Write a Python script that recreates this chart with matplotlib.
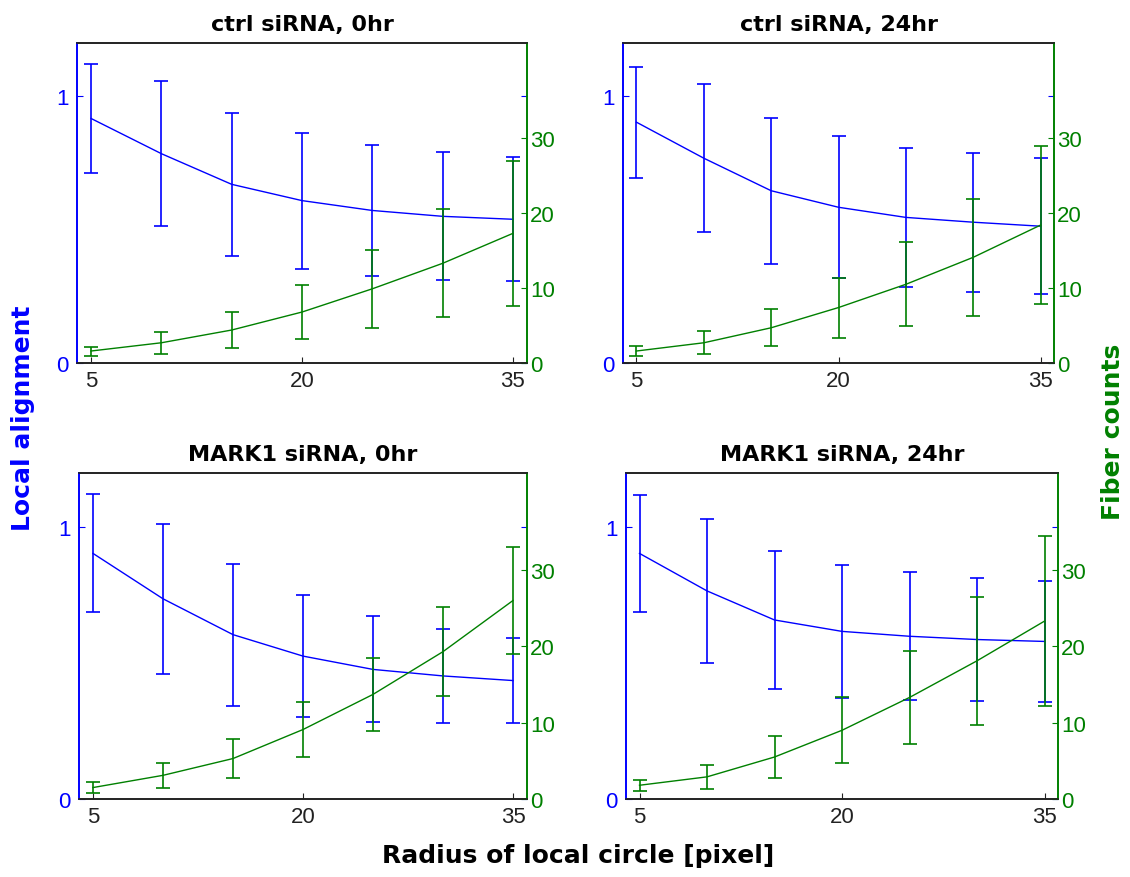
import numpy as np
import matplotlib
matplotlib.use('Agg')
import matplotlib.pyplot as plt

plt.rcParams['font.family'] = ['Liberation Sans', 'DejaVu Sans']

# radius of local circle (pixel)
radius = [5, 10, 15, 20, 25, 30, 35]

titles = ['ctrl siRNA, 0hr', 'ctrl siRNA, 24hr',
          'MARK1 siRNA, 0hr', 'MARK1 siRNA, 24hr']

# local alignment: mean and half-width of error bar
align_ctrl_0 = [0.917, 0.785, 0.670, 0.609, 0.572, 0.550, 0.539]
align_ctrl_0_err = [0.203, 0.272, 0.268, 0.255, 0.246, 0.240, 0.233]
align_ctrl_24 = [0.903, 0.768, 0.646, 0.584, 0.546, 0.528, 0.513]
align_ctrl_24_err = [0.208, 0.277, 0.274, 0.266, 0.261, 0.261, 0.256]
align_mark_0 = [0.904, 0.737, 0.605, 0.526, 0.477, 0.453, 0.436]
align_mark_0_err = [0.217, 0.277, 0.261, 0.224, 0.195, 0.174, 0.156]
align_mark_24 = [0.904, 0.766, 0.659, 0.617, 0.599, 0.587, 0.580]
align_mark_24_err = [0.214, 0.265, 0.253, 0.244, 0.235, 0.226, 0.223]

# fiber counts: mean and half-width of error bar
fiber_ctrl_0 = [1.6, 2.7, 4.4, 6.8, 9.9, 13.3, 17.3]
fiber_ctrl_0_err = [0.6, 1.45, 2.45, 3.65, 5.2, 7.2, 9.7]
fiber_ctrl_24 = [1.6, 2.7, 4.7, 7.4, 10.5, 14.1, 18.4]
fiber_ctrl_24_err = [0.7, 1.55, 2.45, 4.0, 5.6, 7.8, 10.5]
fiber_mark_0 = [1.5, 3.1, 5.3, 9.1, 13.7, 19.3, 26.0]
fiber_mark_0_err = [0.7, 1.65, 2.55, 3.55, 4.8, 5.85, 7.0]
fiber_mark_24 = [1.8, 2.9, 5.5, 9.0, 13.3, 18.1, 23.3]
fiber_mark_24_err = [0.7, 1.6, 2.8, 4.3, 6.1, 8.4, 11.1]

align = [align_ctrl_0, align_ctrl_24, align_mark_0, align_mark_24]
align_err = [align_ctrl_0_err, align_ctrl_24_err, align_mark_0_err, align_mark_24_err]
fiber = [fiber_ctrl_0, fiber_ctrl_24, fiber_mark_0, fiber_mark_24]
fiber_err = [fiber_ctrl_0_err, fiber_ctrl_24_err, fiber_mark_0_err, fiber_mark_24_err]

BLUE = '#0000ff'
GREEN = '#008000'
W, H = 1130, 878
BOLD_FONT = ['DejaVu Sans']

# axes boxes in pixels: left, top, right, bottom
boxes = [(77, 44, 527, 364), (623, 44, 1054, 364),
         (79, 474, 527, 800), (626, 474, 1058, 800)]

fig = plt.figure(figsize=(W / 100, H / 100), dpi=100)

for i in range(4):
    l, t, r, b = boxes[i]
    ax = fig.add_axes([l / W, 1 - b / H, (r - l) / W, (b - t) / H])
    ax2 = ax.twinx()

    ax.errorbar(radius, align[i], yerr=align_err[i], color=BLUE, lw=1,
                elinewidth=1.2, capsize=5, capthick=1.2)
    ax2.errorbar(radius, fiber[i], yerr=fiber_err[i], color=GREEN, lw=1,
                 elinewidth=1.2, capsize=5, capthick=1.2)

    ax.set_xlim(4, 36)
    ax.set_ylim(0, 1.2)
    ax2.set_ylim(0, 42.7)
    ax.set_xticks([5, 20, 35])
    ax.set_yticks([0, 1])
    ax2.set_yticks([0, 10, 20, 30])

    ax.tick_params(axis='x', direction='in', length=4, labelsize=16,
                   colors='#222222', pad=5)
    ax.tick_params(axis='y', direction='in', length=4, labelsize=16,
                   colors=BLUE, right=True, pad=6)
    ax2.tick_params(axis='y', direction='in', length=4, labelsize=16,
                    colors=GREEN, pad=2)

    for a in (ax, ax2):
        a.spines['left'].set_color(BLUE)
        a.spines['right'].set_color(GREEN)
        a.spines['top'].set_color('#222222')
        a.spines['bottom'].set_color('#222222')
        for s in a.spines.values():
            s.set_linewidth(1.2)

    ax.set_title(titles[i], fontsize=16, fontweight='bold', pad=9,
                 family=BOLD_FONT)

fig.text(23 / W, 1 - 418 / H, 'Local alignment', rotation=90, color=BLUE,
         fontsize=18, fontweight='bold', ha='center', va='center',
         family=BOLD_FONT)
fig.text(1113 / W, 1 - 432 / H, 'Fiber counts', rotation=90, color=GREEN,
         fontsize=18, fontweight='bold', ha='center', va='center',
         family=BOLD_FONT)
fig.text(578 / W, 1 - 856 / H, 'Radius of local circle [pixel]',
         fontsize=18, fontweight='bold', ha='center', va='center',
         family=BOLD_FONT)

plt.savefig('out.png', dpi=100)
